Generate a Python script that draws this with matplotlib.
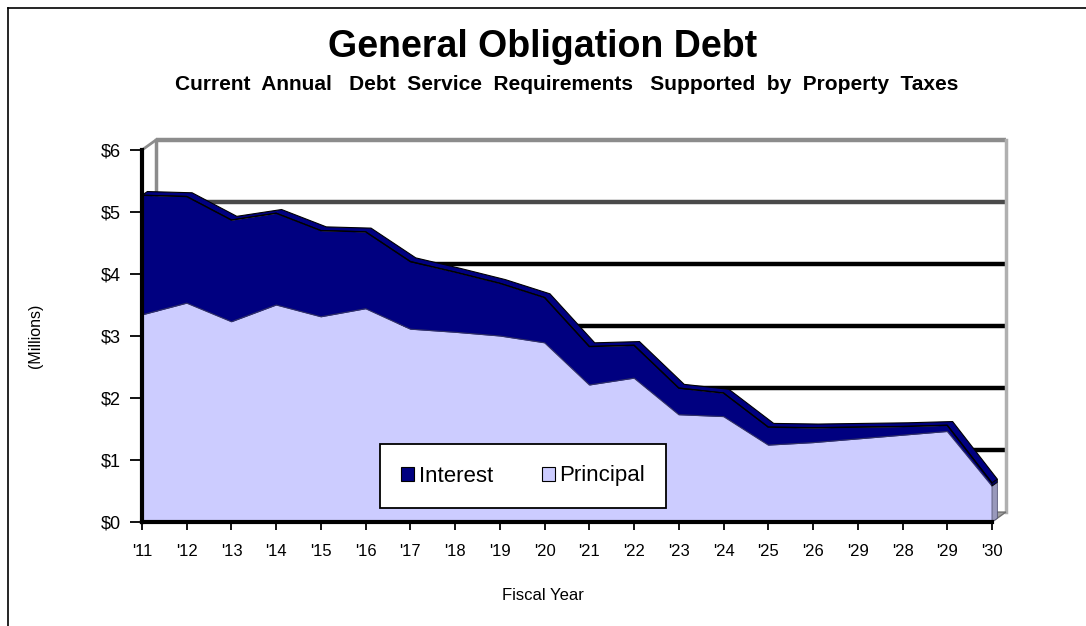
import matplotlib
matplotlib.use("Agg")
import matplotlib.pyplot as plt
import numpy as np
from matplotlib.lines import Line2D
from matplotlib.patches import Patch, Polygon

plt.rcParams['font.family'] = ['Liberation Sans', 'DejaVu Sans']

years = ["'11", "'12", "'13", "'14", "'15", "'16", "'17", "'18", "'19", "'20",
         "'21", "'22", "'23", "'24", "'25", "'26", "'29", "'28", "'29", "'30"]
principal = [3.34, 3.53, 3.23, 3.50, 3.31, 3.44, 3.11, 3.06, 3.00, 2.89,
             2.21, 2.32, 1.73, 1.70, 1.24, 1.28, 1.34, 1.40, 1.46, 0.58]
interest = [1.93, 1.72, 1.64, 1.48, 1.39, 1.24, 1.09, 0.97, 0.85, 0.73,
            0.62, 0.53, 0.43, 0.38, 0.29, 0.24, 0.19, 0.14, 0.10, 0.05]
yticks = [0, 1, 2, 3, 4, 5, 6]
ytick_labels = ["$0", "$1", "$2", "$3", "$4", "$5", "$6"]

W, H = 1086, 626
fig = plt.figure(figsize=(W / 100, H / 100), dpi=100)
ax = fig.add_axes([142 / W, (H - 522) / H, 850 / W, 372 / H])

x = np.arange(len(years))
p = np.array(principal)
tot = p + np.array(interest)
ax.set_xlim(0, len(years) - 1)
ax.set_ylim(0, 6)

# 3D offsets (back wall)
dx, dy = 0.31, 0.16
n = len(years) - 1

# back wall gridlines
for k in range(1, 7):
    col = 'black' if k <= 4 else ('#4a4a4a' if k == 5 else '#8c8c8c')
    ax.plot([dx, n + dx], [k + dy, k + dy], color=col, lw=3.2, zorder=1,
            clip_on=False, solid_capstyle='butt')
# back wall edges
ax.plot([dx, dx], [dy, 6 + dy], color='#8c8c8c', lw=2.5, zorder=1, clip_on=False)
ax.plot([n + dx, n + dx], [dy, 6 + dy], color='#b0b0b0', lw=2.5, zorder=1, clip_on=False)
ax.plot([0, dx], [6, 6 + dy], color='#8c8c8c', lw=2, zorder=1, clip_on=False)
# floor
ax.add_patch(Polygon([[0, 0], [n, 0], [n + dx, dy], [dx, dy]], closed=True,
                     facecolor='#a0a0a0', edgecolor='#707070', lw=1, zorder=1,
                     clip_on=False))

# areas
ax.fill_between(x, 0, p, color='#CCCCFF', zorder=3, lw=0)
ax.fill_between(x, p, tot, color='#000080', zorder=3, lw=0)
ax.plot(x, p, color='#333366', lw=0.8, zorder=4)
# top face of the stack (depth)
tdx, tdy = 0.12, 0.06
top = np.column_stack([x, tot])
poly = np.vstack([top, (top + [tdx, tdy])[::-1]])
ax.add_patch(Polygon(poly, closed=True, facecolor='#000080', edgecolor='black',
                     lw=0.8, zorder=4, clip_on=False))
ax.plot(x, tot, color='black', lw=1.0, zorder=5)
# right end cap
ax.add_patch(Polygon([[n, 0], [n + tdx, tdy], [n + tdx, p[-1] + tdy], [n, p[-1]]],
                     closed=True, facecolor='#9999bb', edgecolor='#555577', lw=0.6,
                     zorder=4, clip_on=False))
ax.add_patch(Polygon([[n, p[-1]], [n + tdx, p[-1] + tdy], [n + tdx, tot[-1] + tdy], [n, tot[-1]]],
                     closed=True, facecolor='#000060', edgecolor='black', lw=0.6,
                     zorder=4, clip_on=False))

# axes styling
for s in ['top', 'right']:
    ax.spines[s].set_visible(False)
ax.spines['left'].set_linewidth(3)
ax.spines['bottom'].set_linewidth(3)
ax.spines['left'].set_zorder(6)
ax.spines['bottom'].set_zorder(6)
ax.set_yticks(yticks)
ax.set_yticklabels(ytick_labels, fontsize=13)
ax.set_xticks(x)
ax.set_xticklabels(years, fontsize=12)
ax.tick_params(axis='y', length=9, width=1.3, pad=6, direction='out')
ax.tick_params(axis='x', length=6, width=1.3, pad=10, direction='out')
ax.set_facecolor('none')

# legend
handles = [Patch(facecolor='#000080', edgecolor='black', lw=0.8, label='Interest'),
           Patch(facecolor='#CCCCFF', edgecolor='black', lw=0.8, label='Principal')]
leg = fig.legend(handles=handles, loc='center', bbox_to_anchor=(523 / W, 1 - 476 / H),
                 ncol=2, fontsize=16, frameon=True, fancybox=False, edgecolor='black',
                 facecolor='white', framealpha=1,
                 handlelength=0.6, handleheight=0.6, handletextpad=0.2,
                 columnspacing=2.2, borderpad=0.95, borderaxespad=0)
leg.get_frame().set_linewidth(1.3)
leg.set_zorder(10)

# texts
fig.text(543 / W, 1 - 47 / H, "General Obligation Debt", ha='center', va='center',
         fontsize=27, fontweight='bold')
fig.text(567 / W, 1 - 84 / H,
         "Current  Annual   Debt  Service  Requirements   Supported  by  Property  Taxes",
         ha='center', va='center', fontsize=15, fontweight='bold')
fig.text(36 / W, 1 - 336 / H, "(Millions)", rotation=90, ha='center', va='center',
         fontsize=11.5)
fig.text(543 / W, 1 - 596 / H, "Fiscal Year", ha='center', va='center', fontsize=12)

# figure border (left and top)
fig.add_artist(Line2D([8 / W, 8 / W], [0, 1 - 8 / H], color='black', lw=1.2))
fig.add_artist(Line2D([8 / W, 1], [1 - 8 / H, 1 - 8 / H], color='black', lw=1.2))

fig.savefig("out.png", dpi=100)
